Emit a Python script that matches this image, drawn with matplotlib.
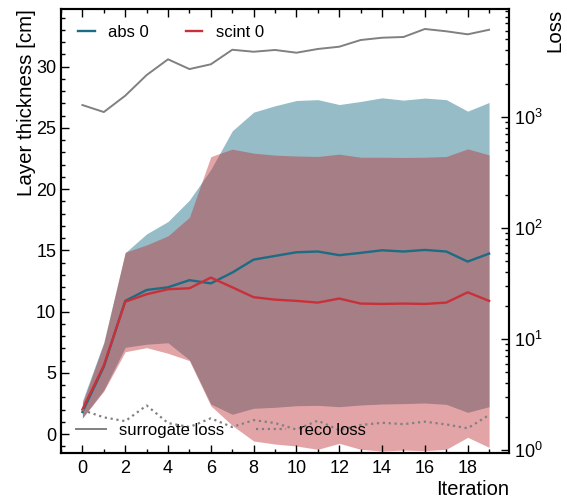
#!/usr/bin/env python3

import matplotlib
matplotlib.use("Agg")
import matplotlib.pyplot as plt
from matplotlib.ticker import MultipleLocator, LogLocator, NullFormatter
import numpy as np


##########################################################################
# DATA
##########################################################################

iteration = list(range(20))

abs_mean = [1.8, 5.5, 10.87, 11.76, 11.98, 12.56, 12.3, 13.18, 14.24, 14.54,
            14.84, 14.9, 14.6, 14.79, 15.0, 14.9, 15.03, 14.9, 14.08, 14.73]
abs_hi = [2.7, 7.5, 14.8, 16.34, 17.35, 19.1, 21.6, 24.75, 26.28, 26.8,
          27.23, 27.3, 26.9, 27.15, 27.45, 27.26, 27.43, 27.3, 26.36, 27.07]
abs_lo = [1.3, 3.6, 7.08, 7.33, 7.45, 6.05, 2.45, 1.61, 2.1, 2.18,
          2.31, 2.34, 2.23, 2.37, 2.45, 2.48, 2.53, 2.42, 1.77, 2.23]

scint_mean = [2.0, 5.6, 10.8, 11.41, 11.82, 11.9, 12.77, 11.98, 11.17, 10.97,
              10.87, 10.73, 11.06, 10.65, 10.62, 10.65, 10.62, 10.73, 11.57, 10.87]
scint_hi = [2.5, 7.4, 14.84, 15.44, 16.18, 17.7, 22.65, 23.26, 22.93, 22.77,
            22.7, 22.66, 22.85, 22.6, 22.6, 22.58, 22.6, 22.66, 23.28, 22.79]
scint_lo = [1.3, 3.5, 6.72, 7.05, 6.59, 5.99, 2.3, 0.7, -0.57, -0.82,
            -0.98, -1.25, -0.76, -1.25, -1.39, -1.31, -1.36, -1.25, -0.27, -1.09]

surrogate_loss = [1282, 1109, 1556, 2388, 3311, 2704, 2985, 4036, 3873, 4018,
                  3796, 4102, 4300, 4940, 5180, 5260, 6210, 5920, 5560, 6110]
reco_loss = [2.29, 1.97, 1.82, 2.52, 1.75, 1.61, 1.93, 1.61, 1.86, 1.75,
             1.53, 1.84, 1.51, 1.68, 1.76, 1.71, 1.80, 1.70, 1.57, 2.07]


##########################################################################
# STYLE
##########################################################################

plt.rcParams["font.family"] = ["Liberation Sans", "DejaVu Sans"]
plt.rcParams["xtick.direction"] = "in"
plt.rcParams["ytick.direction"] = "in"

TEAL = "#1b6c84"
RED = "#c8313a"
GREY = "#808080"
TICK_SIZE = 13


##########################################################################
# GRAPHING
##########################################################################

fig = plt.figure(figsize=(5.67, 5.0), dpi=100)
ax = fig.add_axes([0.1076, 0.094, 0.7901, 0.888])

# Bands first, then the mean lines
ax.fill_between(iteration, abs_lo, abs_hi, color="#1b6f85", alpha=0.46, lw=0)
ax.fill_between(iteration, scint_lo, scint_hi, color="#be282d", alpha=0.42, lw=0)
ax.plot(iteration, abs_mean, color=TEAL, lw=1.7, label="abs 0")
ax.plot(iteration, scint_mean, color=RED, lw=1.7, label="scint 0")

ax.set_xlim(-1, 19.93)
ax.set_ylim(-1.55, 34.7)
ax.xaxis.set_major_locator(MultipleLocator(2))
ax.xaxis.set_minor_locator(MultipleLocator(1))
ax.yaxis.set_major_locator(MultipleLocator(5))
ax.yaxis.set_minor_locator(MultipleLocator(1))
ax.tick_params(which="both", top=True, right=False, labelsize=TICK_SIZE, width=1.0)
ax.tick_params(which="major", length=5.5)
ax.tick_params(which="minor", length=3)
ax.tick_params(axis="x", pad=5)
for s in ax.spines.values():
    s.set_linewidth(1.5)

ax.set_xlabel("Iteration", fontsize=14.5, loc="right", labelpad=2)
ax.set_ylabel("Layer thickness [cm]", fontsize=14.8, loc="top", labelpad=0)

ax.legend(loc="upper left", ncol=2, frameon=False, fontsize=12,
          handlelength=1.0, columnspacing=2.2,
          bbox_to_anchor=(0.005, 0.997))

# Loss on a second, logarithmic axis
ax2 = ax.twinx()
ax2.plot(iteration, surrogate_loss, color=GREY, lw=1.4, label="surrogate loss")
ax2.plot(iteration, reco_loss, color=GREY, lw=1.6, ls=":", label="reco loss")
ax2.set_yscale("log")
ax2.set_ylim(0.94, 9400)
ax2.yaxis.set_major_locator(LogLocator(base=10, numticks=10))
ax2.yaxis.set_minor_locator(LogLocator(base=10, subs=np.arange(2, 10), numticks=20))
ax2.yaxis.set_minor_formatter(NullFormatter())
ax2.tick_params(which="both", labelsize=TICK_SIZE, width=1.0)
ax2.tick_params(which="major", length=5.5)
ax2.tick_params(which="minor", length=3)
for s in ax2.spines.values():
    s.set_linewidth(1.5)
ax2.set_ylabel("Loss", fontsize=14.8, loc="top", labelpad=2)

ax2.legend(loc="lower left", ncol=2, frameon=False, fontsize=12,
           handlelength=1.8, columnspacing=1.9,
           bbox_to_anchor=(0.0, 0.0))

fig.savefig("out.png", dpi=100)
